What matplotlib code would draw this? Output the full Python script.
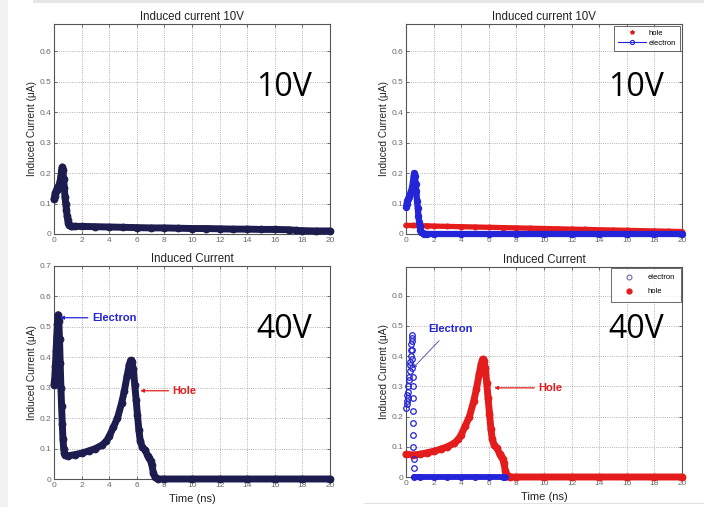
import matplotlib
matplotlib.use("Agg")
import matplotlib.pyplot as plt
from matplotlib.patches import Rectangle

# ---------------- data ----------------
# 10 V, total induced current (left panel)
t10_total = [0.0, 0.05, 0.1, 0.15, 0.2, 0.25, 0.3, 0.35, 0.4, 0.45, 0.5, 0.55, 0.6, 0.65,
             0.7, 0.75, 0.8, 0.85, 0.9, 0.95, 1.0, 1.05, 1.1, 1.2, 1.3, 1.5, 2.0, 3.0,
             4.0, 5.0, 6.0, 7.0, 8.0, 9.0, 10.0, 11.0, 12.0, 13.0, 14.0, 15.0, 16.0,
             17.0, 17.5, 18.0, 19.0, 20.0]
i10_total = [0.115, 0.125, 0.135, 0.14, 0.145, 0.15, 0.155, 0.16, 0.165, 0.175, 0.19, 0.21,
             0.22, 0.21, 0.18, 0.15, 0.12, 0.1, 0.08, 0.06, 0.045, 0.035, 0.03, 0.026,
             0.025, 0.025, 0.025, 0.024, 0.023, 0.022, 0.021, 0.02, 0.02, 0.019, 0.018,
             0.018, 0.017, 0.016, 0.016, 0.015, 0.015, 0.014, 0.012, 0.011, 0.01, 0.01]

# 10 V, electron and hole contributions (right panel)
t10_e = [0.0, 0.05, 0.1, 0.15, 0.2, 0.25, 0.3, 0.35, 0.4, 0.45, 0.5, 0.55, 0.6, 0.65,
         0.7, 0.75, 0.8, 0.85, 0.9, 0.95, 1.0, 1.05, 1.1, 1.2, 1.3, 1.5, 2.0, 4.0, 6.0,
         8.0, 10.0, 12.0, 14.0, 16.0, 18.0, 20.0]
i10_e = [0.09, 0.1, 0.11, 0.115, 0.12, 0.125, 0.13, 0.14, 0.145, 0.155, 0.17, 0.19, 0.2,
         0.19, 0.165, 0.14, 0.11, 0.085, 0.06, 0.04, 0.025, 0.012, 0.005, 0.002, 0.0,
         0.0, 0.0, 0.0, 0.0, 0.0, 0.0, 0.0, 0.0, 0.0, 0.0, 0.0]
t10_h = [0.0, 0.5, 1.0, 1.5, 2.0, 3.0, 4.0, 5.0, 6.0, 7.0, 8.0, 9.0, 10.0, 11.0, 12.0,
         13.0, 14.0, 15.0, 16.0, 17.0, 18.0, 19.0, 20.0]
i10_h = [0.028, 0.028, 0.027, 0.027, 0.026, 0.025, 0.024, 0.023, 0.022, 0.021, 0.02,
         0.019, 0.018, 0.017, 0.016, 0.015, 0.014, 0.013, 0.012, 0.011, 0.01, 0.009, 0.008]

# 40 V, total induced current (left panel)
t40_total = [0.0, 0.05, 0.1, 0.15, 0.2, 0.25, 0.3, 0.35, 0.4, 0.45, 0.5, 0.55, 0.6, 0.65,
             0.7, 0.75, 0.8, 1.0, 1.5, 2.0, 2.5, 3.0, 3.5, 3.8, 4.0, 4.3, 4.6, 4.9, 5.1,
             5.3, 5.45, 5.55, 5.65, 5.75, 5.85, 5.95, 6.05, 6.15, 6.25, 6.4, 6.6, 6.8,
             6.9, 7.0, 7.1, 7.2, 7.3, 7.5, 8.0, 10.0, 12.0, 14.0, 16.0, 18.0, 20.0]
i40_total = [0.31, 0.33, 0.37, 0.42, 0.47, 0.51, 0.54, 0.52, 0.46, 0.38, 0.3, 0.24, 0.18,
             0.13, 0.1, 0.085, 0.078, 0.076, 0.08, 0.085, 0.092, 0.1, 0.112, 0.125, 0.14,
             0.17, 0.2, 0.25, 0.29, 0.34, 0.375, 0.39, 0.385, 0.36, 0.31, 0.26, 0.21,
             0.16, 0.125, 0.105, 0.095, 0.075, 0.068, 0.06, 0.045, 0.02, 0.008, 0.0, 0.0,
             0.0, 0.0, 0.0, 0.0, 0.0, 0.0]

# 40 V, electron and hole contributions (right panel)
t40_e = [0.02, 0.05, 0.08, 0.1, 0.12, 0.15, 0.18, 0.2, 0.23, 0.26, 0.28, 0.31, 0.34,
         0.36, 0.38, 0.4, 0.42, 0.44, 0.45, 0.46, 0.47, 0.48, 0.49, 0.5, 0.51, 0.52,
         0.53, 0.54, 0.55, 0.56]
i40_e = [0.23, 0.24, 0.25, 0.27, 0.26, 0.28, 0.3, 0.32, 0.33, 0.35, 0.37, 0.38, 0.4,
         0.42, 0.44, 0.46, 0.47, 0.45, 0.42, 0.39, 0.36, 0.33, 0.3, 0.26, 0.22, 0.18,
         0.14, 0.1, 0.06, 0.03]
t40_e_tail = [0.6, 1.0, 2.0, 3.0, 4.0, 5.0, 6.0, 7.0, 7.2]
i40_e_tail = [0.0, 0.0, 0.0, 0.0, 0.0, 0.0, 0.0, 0.0, 0.0]
t40_h = [0.0, 0.5, 1.0, 1.5, 2.0, 2.5, 3.0, 3.5, 3.8, 4.0, 4.3, 4.6, 4.9, 5.1, 5.3, 5.45,
         5.55, 5.65, 5.75, 5.85, 5.95, 6.05, 6.15, 6.25, 6.4, 6.6, 6.8, 6.9, 7.0, 7.1,
         7.2, 7.3, 7.5, 8.0, 10.0, 12.0, 14.0, 16.0, 18.0, 20.0]
i40_h = [0.075, 0.073, 0.075, 0.08, 0.085, 0.092, 0.1, 0.112, 0.125, 0.14, 0.17, 0.2,
         0.25, 0.29, 0.34, 0.375, 0.39, 0.385, 0.36, 0.31, 0.26, 0.21, 0.16, 0.125,
         0.105, 0.095, 0.075, 0.068, 0.06, 0.045, 0.02, 0.008, 0.0, 0.0, 0.0, 0.0, 0.0,
         0.0, 0.0, 0.0]

x_ticks = [0, 2, 4, 6, 8, 10, 12, 14, 16, 18, 20]
y_ticks_top = [0, 0.1, 0.2, 0.3, 0.4, 0.5, 0.6]
y_ticks_bl = [0, 0.1, 0.2, 0.3, 0.4, 0.5, 0.6, 0.7]

# ---------------- styling ----------------
NAVY = "#1c1c4e"
BLUE = "#2424d8"
RED = "#e41c1c"
TICK_GRAY = "#6a6a6a"
FONT = "Liberation Sans"

plt.rcParams["font.family"] = [FONT, "DejaVu Sans"]

fig = plt.figure(figsize=(7.04, 5.07), dpi=100)
fig.patch.set_facecolor("white")

# light slide edges
fig.add_artist(Rectangle((0, 0), 8 / 704, 1, transform=fig.transFigure,
                         facecolor="#f2f2f2", edgecolor="none", zorder=0))
fig.add_artist(Rectangle((33 / 704, 1 - 3 / 507), 1, 3 / 507, transform=fig.transFigure,
                         facecolor="#e6e6e6", edgecolor="none", zorder=0))
fig.add_artist(Rectangle((364 / 704, 3 / 507), 340 / 704, 1.2 / 507, transform=fig.transFigure,
                         facecolor="#e0e0e0", edgecolor="none", zorder=0))


def px_axes(left, top, right, bottom):
    W, H = 704.0, 507.0
    return fig.add_axes([left / W, (H - bottom) / H, (right - left) / W, (bottom - top) / H])


def style(ax, ymax, yticks, title, xlabel=None):
    ax.set_xlim(0, 20)
    ax.set_ylim(0, ymax)
    ax.set_xticks(x_ticks)
    ax.set_yticks(yticks)
    ax.set_yticklabels([("%g" % v) for v in yticks])
    ax.tick_params(direction="in", length=2.5, width=0.6, colors="#555555",
                   labelsize=6, labelcolor=TICK_GRAY, pad=2, top=True, right=True)
    ax.grid(True, linestyle=":", color="#9a9a9a", linewidth=0.6)
    for s in ax.spines.values():
        s.set_color("#555555")
        s.set_linewidth(0.8)
    ax.set_title(title, fontsize=8.3, color="#222222", pad=3)
    ax.set_ylabel("Induced Current (\u03bcA)", fontsize=7.3, color="#222222", labelpad=2)
    if xlabel:
        ax.set_xlabel(xlabel, fontsize=8, color="#222222", labelpad=4)


def big_label(ax, text):
    ax.text(0.935, 0.70, text, transform=ax.transAxes, ha="right", va="center",
            fontsize=23, family=["Open Sans", "DejaVu Sans"], color="black")


def band(ax, t, i, color, lw=5.0, ms=4.8, z=3):
    ax.plot(t, i, "-o", color=color, lw=lw, ms=ms, mfc=color, mec=color, mew=0.8,
            solid_capstyle="round", solid_joinstyle="round", clip_on=False, zorder=z)


def boxed_legend(leg):
    frame = leg.get_frame()
    frame.set_edgecolor("#444444")
    frame.set_linewidth(0.7)


# ---- 10 V total ----
ax1 = px_axes(54, 24, 330, 234)
band(ax1, t10_total, i10_total, NAVY)
style(ax1, 0.69, y_ticks_top, "Induced current 10V")
big_label(ax1, "10V")

# ---- 10 V electron / hole ----
ax2 = px_axes(406, 24, 682, 234)
band(ax2, t10_h, i10_h, RED, lw=3.8, ms=3.5)
band(ax2, t10_e, i10_e, BLUE, lw=4.5, ms=4.5, z=4)
style(ax2, 0.69, y_ticks_top, "Induced current 10V")
big_label(ax2, "10V")
h_hole = plt.Line2D([], [], color=RED, marker="*", linestyle="none", ms=3)
h_el = plt.Line2D([], [], color=BLUE, marker="o", mfc="none", lw=0.8, ms=3, mew=0.8)
leg2 = ax2.legend([h_hole, h_el], ["hole", "electron"], loc="upper right",
                  fontsize=5.5, frameon=True, fancybox=False, borderpad=0.45,
                  handlelength=3.7, labelspacing=0.35, borderaxespad=0.3,
                  handletextpad=0.4)
boxed_legend(leg2)

# ---- 40 V total ----
ax3 = px_axes(54, 266, 330, 479)
band(ax3, t40_total, i40_total, NAVY)
style(ax3, 0.7, y_ticks_bl, "Induced Current", xlabel="Time (ns)")
big_label(ax3, "40V")
ax3.annotate("Electron", xy=(0.45, 0.53), xytext=(2.75, 0.53), color=BLUE,
             fontsize=8, fontweight="bold", va="center", ha="left",
             arrowprops=dict(arrowstyle="-|>", color=BLUE, lw=0.9, mutation_scale=5,
                             shrinkA=1, shrinkB=0))
ax3.annotate("Hole", xy=(6.25, 0.29), xytext=(8.6, 0.29), color=RED,
             fontsize=8, fontweight="bold", va="center", ha="left",
             arrowprops=dict(arrowstyle="-|>", color=RED, lw=0.9, mutation_scale=5,
                             shrinkA=1, shrinkB=0))

# ---- 40 V electron / hole ----
ax4 = px_axes(406, 267, 682, 477)
band(ax4, t40_h, i40_h, RED)
band(ax4, t40_e_tail, i40_e_tail, BLUE, lw=4.2, ms=4.2, z=4)
ax4.plot(t40_e, i40_e, "o", color=BLUE, ms=4.0, mfc="none", mew=0.9, zorder=5,
         clip_on=False)
style(ax4, 0.695, y_ticks_top, "Induced Current", xlabel="Time (ns)")
big_label(ax4, "40V")
ax4.annotate("Electron", xy=(0.5, 0.36), xytext=(1.6, 0.49), color=BLUE,
             fontsize=8, fontweight="bold", va="center", ha="left",
             arrowprops=dict(arrowstyle="-|>", color="#5a5ab8", lw=0.7, mutation_scale=5,
                             shrinkA=4, shrinkB=0))
ax4.annotate("Hole", xy=(6.4, 0.295), xytext=(9.6, 0.295), color=RED,
             fontsize=8, fontweight="bold", va="center", ha="left",
             arrowprops=dict(arrowstyle="-|>", color=RED, lw=0.9, mutation_scale=5,
                             shrinkA=1, shrinkB=0))
h_el4 = plt.Line2D([], [], color="#6a6ab0", marker="o", mfc="none", linestyle="none",
                   ms=3.5, mew=0.8)
h_ho4 = plt.Line2D([], [], color=RED, marker="o", linestyle="none", ms=3.5)
leg4 = ax4.legend([h_el4, h_ho4], ["electron", "hole"], loc="upper right",
                  fontsize=5.5, frameon=True, fancybox=False, borderpad=0.8,
                  handlelength=3.0, labelspacing=0.9, borderaxespad=0.1,
                  handletextpad=1.0)
boxed_legend(leg4)

fig.savefig("out.png", dpi=100, facecolor=fig.get_facecolor())
